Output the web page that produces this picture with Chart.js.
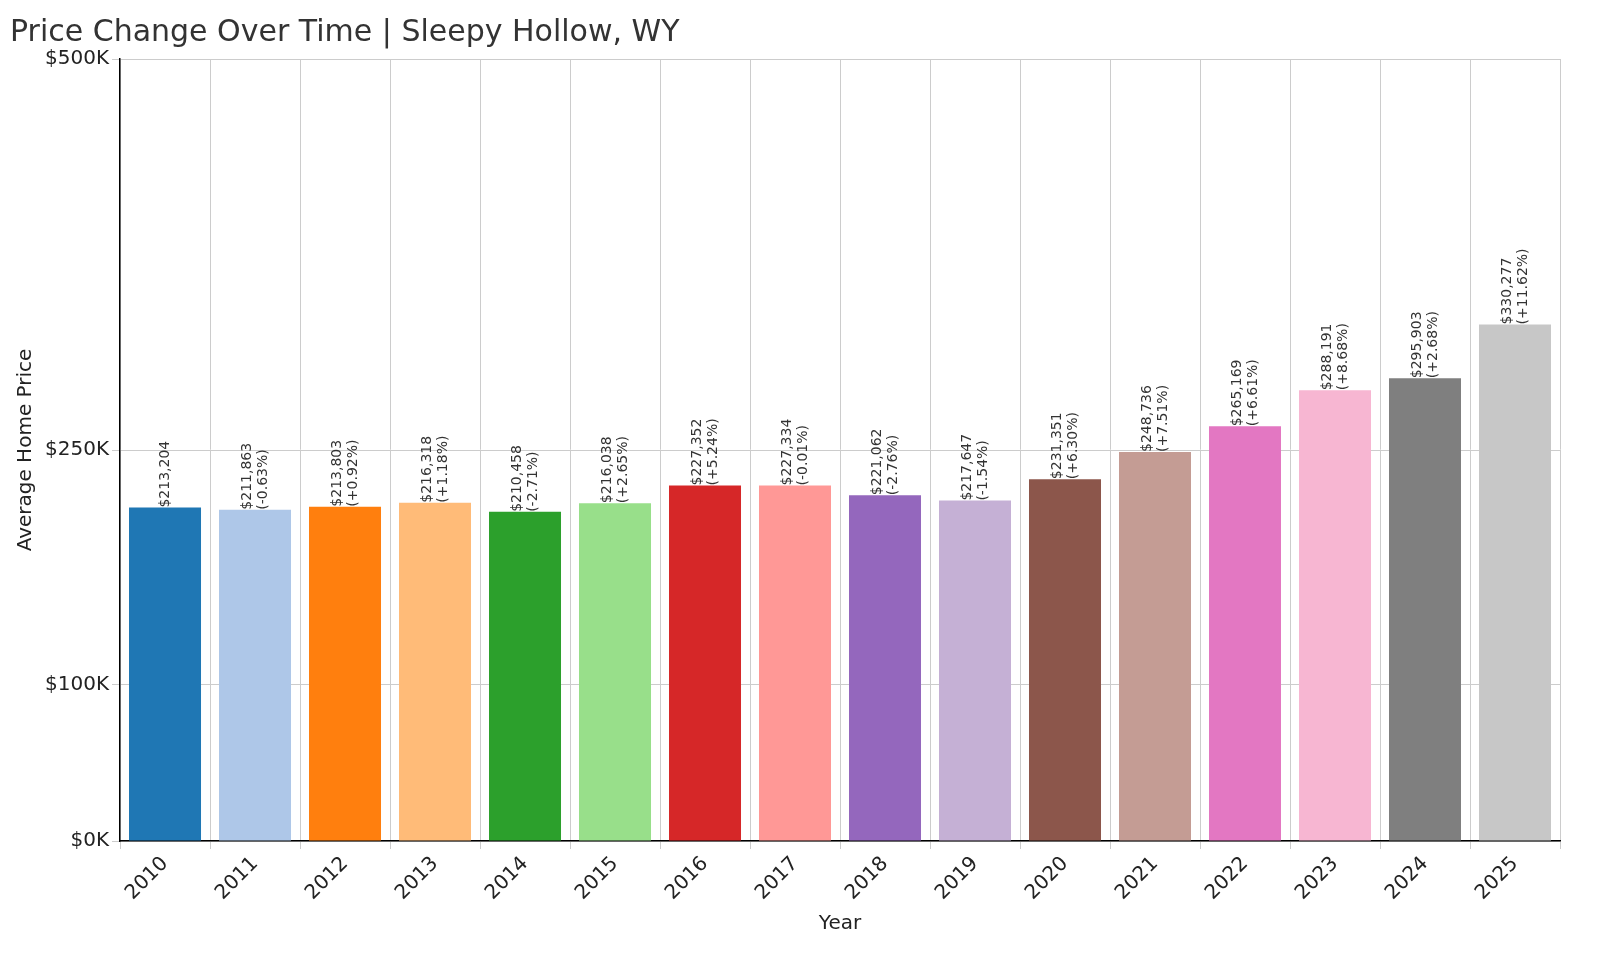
<!DOCTYPE html>
<html><head><meta charset="utf-8">
<script src="https://cdn.jsdelivr.net/npm/chart.js@4"></script>
<style>html,body{margin:0;background:#fff}</style>
</head><body><canvas id="c" width="1600" height="960"></canvas>
<script>
const years=['2010','2011','2012','2013','2014','2015','2016','2017','2018','2019','2020','2021','2022','2023','2024','2025'];
const prices=[213204,211863,213803,216318,210458,216038,227352,227334,221062,217647,231351,248736,265169,288191,295903,330277];
const changes=['','-0.63%','+0.92%','+1.18%','-2.71%','+2.65%','+5.24%','-0.01%','-2.76%','-1.54%','+6.30%','+7.51%','+6.61%','+8.68%','+2.68%','+11.62%'];
const tickVals=[0,100000,250000,500000];
const colors=['#1f77b4','#aec7e8','#ff7f0e','#ffbb78','#2ca02c','#98df8a','#d62728','#ff9896','#9467bd','#c5b0d5','#8c564b','#c49c94','#e377c2','#f7b6d2','#7f7f7f','#c7c7c7'];
const F='"DejaVu Sans", sans-serif';
const labelPlugin={id:'lbl',afterDatasetsDraw(ch){
  const ctx=ch.ctx,meta=ch.getDatasetMeta(0);
  ctx.save();ctx.font='14px '+F;ctx.fillStyle='#333';ctx.textBaseline='middle';ctx.textAlign='left';
  meta.data.forEach((b,i)=>{
    const lines=['$'+prices[i].toLocaleString('en-US')];
    if(changes[i])lines.push('('+changes[i]+')');
    ctx.save();ctx.translate(b.x,b.y);ctx.rotate(-Math.PI/2);
    const n=lines.length;
    lines.forEach((t,k)=>{ctx.fillText(t,0,(k-(n-1)/2)*16);});
    ctx.restore();
  });ctx.restore();}};
new Chart(document.getElementById('c'),{type:'bar',
data:{labels:years,datasets:[{data:prices,backgroundColor:colors,barPercentage:0.8,categoryPercentage:1}]},
plugins:[labelPlugin],
options:{responsive:false,animation:false,devicePixelRatio:1,
layout:{padding:{left:10,right:40,top:5,bottom:20}},
plugins:{legend:{display:false},tooltip:{enabled:false},
 title:{display:true,text:'Price Change Over Time | Sleepy Hollow, WY',align:'start',color:'#333',font:{family:F,size:30,weight:'normal'},padding:{top:10,bottom:8}}},
scales:{
 x:{offset:true,grid:{display:true,color:'#ccc',borderDash:[4,3]},border:{color:'#000',width:1.5},
  ticks:{color:'#222',font:{family:F,size:20},maxRotation:45,minRotation:45},
  title:{display:true,text:'Year',color:'#222',font:{family:F,size:20}}},
 y:{min:0,max:500000,afterBuildTicks(a){a.ticks=tickVals.map(v=>({value:v}));},
  grid:{color:'#ccc',borderDash:[4,3]},border:{color:'#000',width:1.5},
  ticks:{color:'#222',font:{family:F,size:20},callback:v=>'$'+(v/1000)+'K'},
  title:{display:true,text:'Average Home Price',color:'#222',font:{family:F,size:20}}}}}});
</script></body></html>
